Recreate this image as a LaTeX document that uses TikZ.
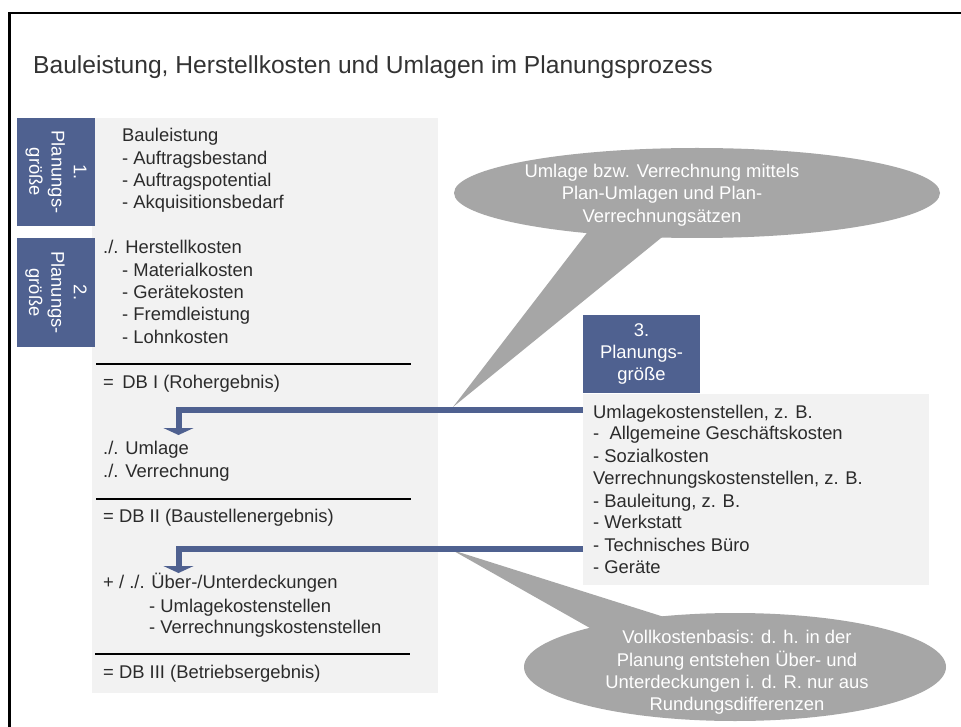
\documentclass[tikz,border=0pt]{standalone}
\usepackage{fontspec}
\setmainfont{Liberation Sans}
\usetikzlibrary{arrows.meta,shapes.geometric}
\definecolor{tabblue}{HTML}{4F6190}
\definecolor{boxgray}{HTML}{F2F2F2}
\definecolor{callgray}{HTML}{A6A6A6}
\definecolor{txt}{HTML}{2B2B2B}
\definecolor{titletxt}{HTML}{333333}
\begin{document}
\begin{tikzpicture}[x=1pt,y=-1pt,
  body/.style={font=\fontsize{18.4}{22.3}\selectfont, text=txt, inner sep=0pt, anchor=base west},
  tabbox/.style={fill=tabblue, text=white, align=center, inner sep=0pt, font=\fontsize{18.4}{22.3}\selectfont},
  panel/.style={fill=boxgray, inner sep=0pt, anchor=north west},
  rulebar/.style={draw=black, line width=2.7pt},
  flow/.style={draw=tabblue, line width=6pt, -{Triangle[width=30pt,length=7pt]}},
  bubble/.style={ellipse, fill=callgray, inner sep=0pt},
  bubbletext/.style={text=white, align=center, inner sep=0pt, font=\fontsize{18.4}{22.3}\selectfont}
]
\useasboundingbox (0,0) rectangle (961,727);
\fill[white] (0,0) rectangle (961,727);
% frame
\draw[line width=2.3pt, black] (9.5,727) -- (9.5,13.2) -- (961,13.2);

% title
\node[font=\fontsize{24.6}{30}\selectfont, text=titletxt, anchor=base west, inner sep=0pt] (title) at (33,74)
  {Bauleistung, Herstellkosten und Umlagen im Planungsprozess};

% panels
\node[panel, minimum width=346pt, minimum height=575pt] (lbox) at (92,118) {};
\node[panel, minimum width=346pt, minimum height=191pt] (rbox) at (583,394) {};

% tabs
\node[tabbox, minimum width=108pt, minimum height=78pt, rotate=-90] (t1) at (56,172) {1.\\Planungs-\\größe};
\node[tabbox, minimum width=108pt, minimum height=78pt, rotate=-90] (t2) at (56,292.5) {2.\\Planungs-\\größe};
\node[tabbox, minimum width=117pt, minimum height=78pt] (t3) at (641.5,354) {3.\\Planungs-\\größe};

% rules
\draw[rulebar] (96,364) -- (411,364);
\draw[rulebar] (96,499) -- (411,499);
\draw[rulebar] (95,654) -- (410,654);

% left texts
\node[body] (l1) at (122,141.5) {Bauleistung};
\node[body] (l2) at (122,164.5) {- Auftragsbestand};
\node[body] (l3) at (122,186.5) {- Auftragspotential};
\node[body] (l4) at (122,208.5) {- Akquisitionsbedarf};
\node[body] (l5) at (103,253.5) {./. Herstellkosten};
\node[body] (l6) at (122,276.5) {- Materialkosten};
\node[body] (l7) at (122,298.5) {- Gerätekosten};
\node[body] (l8) at (122,320.5) {- Fremdleistung};
\node[body] (l9) at (122,343.5) {- Lohnkosten};
\node[body] (l10) at (103,388.5) {=\hspace{8.5pt}DB I (Rohergebnis)};
\node[body] (l11) at (103,454.5) {./. Umlage};
\node[body] (l12) at (103,477.5) {./. Verrechnung};
\node[body] (l13) at (103,522.5) {= DB II (Baustellenergebnis)};
\node[body] (l14) at (103,588.5) {+ / ./. Über-/Unterdeckungen};
\node[body] (l15) at (149,612) {- Umlagekostenstellen};
\node[body] (l16) at (149,633.5) {- Verrechnungskostenstellen};
\node[body] (l17) at (103,678.5) {= DB III (Betriebsergebnis)};

% right texts
\node[body] (r1) at (593,418.5) {Umlagekostenstellen, z. B.};
\node[body] (r2) at (593,439.5) {-\ \ Allgemeine Geschäftskosten};
\node[body] (r3) at (593,462.5) {- Sozialkosten};
\node[body] (r4) at (593,484.5) {Verrechnungskostenstellen, z. B.};
\node[body] (r5) at (593,507.5) {- Bauleitung, z. B.};
\node[body] (r6) at (593,528.5) {- Werkstatt};
\node[body] (r7) at (593,551.5) {- Technisches Büro};
\node[body] (r8) at (593,573.5) {- Geräte};

% callout 1
\node[bubble, minimum width=486pt, minimum height=90pt] (c1) at (697,193) {};
\coordinate (c1tip) at (453,407);
\fill[callgray] (593,225) -- (c1tip) -- (677,225) -- cycle;
\node[bubbletext] (c1t) at (662,195) {Umlage bzw. Verrechnung mittels\\Plan-Umlagen und Plan-\\Verrechnungsätzen};

% callout 2
\node[bubble, minimum width=422pt, minimum height=108pt] (c2) at (735,667) {};
\coordinate (c2tip) at (452,550);
\fill[callgray] (680,622) -- (c2tip) -- (620,645) -- cycle;
\node[bubbletext] (c2t) at (737,672.5) {Vollkostenbasis: d. h. in der\\Planung entstehen Über- und\\Unterdeckungen i. d. R. nur aus\\Rundungsdifferenzen};

% arrows
\coordinate (a1s) at (583,410);
\coordinate (a1e) at (178.5,435);
\coordinate (a2s) at (583,548.5);
\coordinate (a2e) at (178.5,573);
\draw[flow] (a1s) -| (a1e);
\draw[flow] (a2s) -| (a2e);
\end{tikzpicture}
\end{document}
